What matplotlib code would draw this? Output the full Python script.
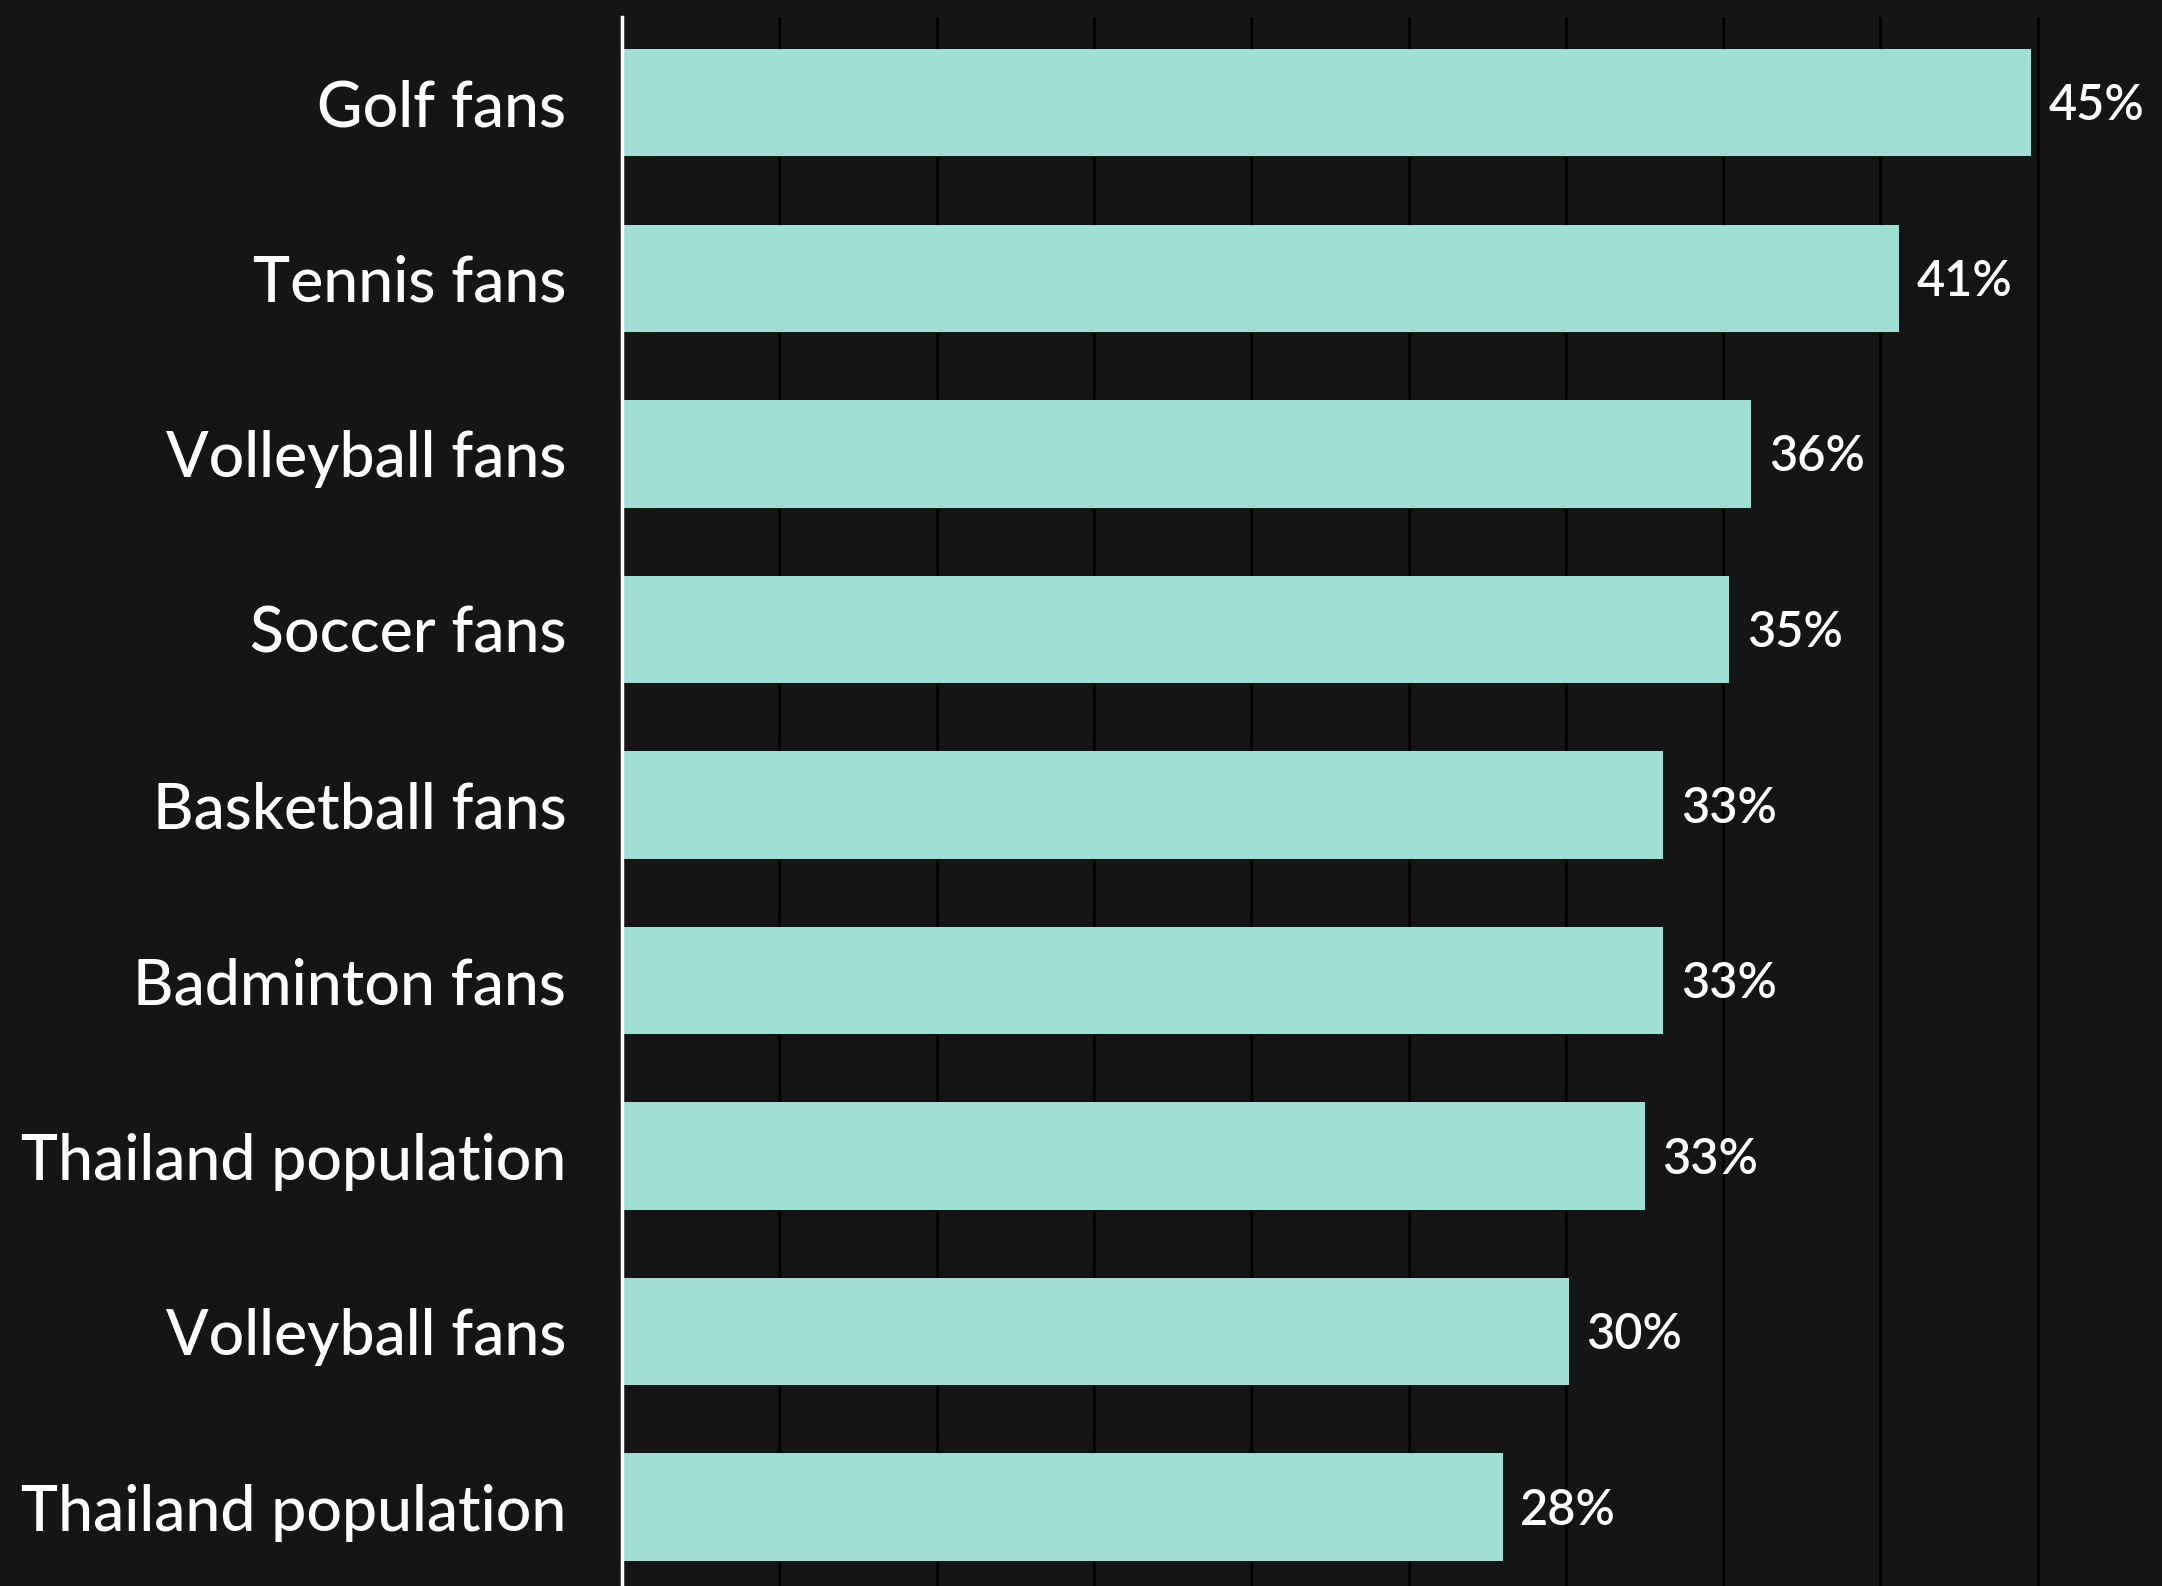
import matplotlib
matplotlib.use("Agg")
import matplotlib.pyplot as plt

# share of each group, top to bottom
groups = ["Golf fans", "Tennis fans", "Volleyball fans", "Soccer fans",
          "Basketball fans", "Badminton fans", "Thailand population",
          "Volleyball fans", "Thailand population"]
shares = [44.8, 40.6, 35.9, 35.2, 33.1, 33.1, 32.5, 30.1, 28.0]
labels = ["45%", "41%", "36%", "35%", "33%", "33%", "33%", "30%", "28%"]
grid_at = [5, 10, 15, 20, 25, 30, 35, 40, 45]

bg = "#151517"
bar_color = "#a0ded4"

plt.rcParams["font.family"] = ["Lato", "DejaVu Sans"]

fig = plt.figure(figsize=(21.62, 15.86), dpi=100, facecolor=bg)
ax = fig.add_axes([0.2877, 0.0, 0.6985, 0.9893])
ax.set_facecolor(bg)

pos = list(range(len(groups)))
ax.barh(pos, shares, height=0.61, color=bar_color, zorder=2)

for y, v, t in zip(pos, shares, labels):
    ax.text(v + 0.55, y + 0.02, t, va="center", ha="left", color="white",
            fontsize=35, fontweight="semibold")

ax.set_xlim(0, 48)
ax.set_ylim(8.45, -0.49)
ax.set_xticks(grid_at)
ax.set_xticklabels([])
ax.xaxis.grid(True, color="black", linewidth=2.2, zorder=1)
ax.tick_params(axis="x", length=0)

ax.set_yticks(pos)
ax.set_yticklabels(groups, fontsize=45, color="white", fontweight="medium")
ax.tick_params(axis="y", length=0, pad=40)

for side in ["top", "right", "bottom"]:
    ax.spines[side].set_visible(False)
ax.spines["left"].set_color("white")
ax.spines["left"].set_linewidth(2.5)
ax.spines["left"].set_zorder(3)

fig.savefig("out.png", dpi=100, facecolor=bg)
